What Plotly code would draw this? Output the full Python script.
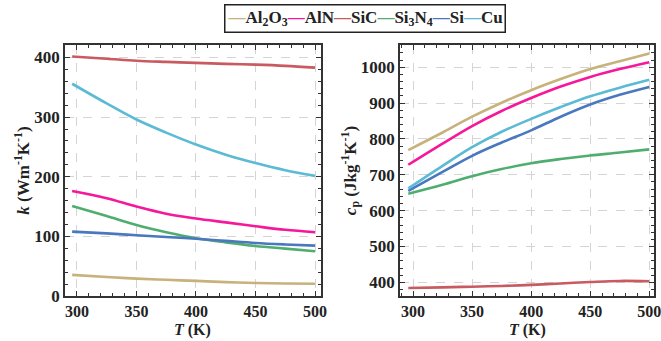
import plotly.graph_objects as go

T = [296, 325, 350, 375, 400, 425, 450, 475, 500]

names = ["Al2O3", "AlN", "SiC", "Si3N4", "Si", "Cu"]
labels_html = ["Al<sub>2</sub>O<sub>3</sub>", "AlN", "SiC", "Si<sub>3</sub>N<sub>4</sub>", "Si", "Cu"]
colors = ["#c8b27c", "#f7179a", "#c95a60", "#4fae6f", "#4a78bf", "#5bbad4"]

# thermal conductivity k (W m^-1 K^-1)
k_Al2O3 = [35.4, 31.8, 29.2, 27.2, 25.3, 23.3, 21.7, 20.9, 20.6]
k_AlN = [176, 164, 150, 138, 130, 123.5, 117, 111, 107]
k_SiC = [401.6, 398, 394.7, 392.7, 391, 389.4, 388, 386, 383]
k_Si3N4 = [151, 134, 119, 107, 97, 90, 84, 79.5, 75]
k_Si = [108, 105, 102, 99, 96, 92.5, 89, 86.5, 84.5]
k_Cu = [356, 323, 296, 274, 254, 237, 223, 211, 201.5]

# specific heat cp (J kg^-1 K^-1)
cp_Al2O3 = [769, 818, 862, 901, 936, 967, 995, 1017, 1038]
cp_AlN = [728, 787, 836, 878, 914, 946, 973, 995, 1014]
cp_SiC = [384.5, 386, 388, 390, 393, 397, 401, 404, 403]
cp_Si3N4 = [647, 672, 696, 716, 732, 744, 754, 762, 771]
cp_Si = [655, 708, 753, 790, 824, 862, 896, 923, 945]
cp_Cu = [662, 725, 777, 820, 856, 889, 919, 943, 965]

k_data = [k_Al2O3, k_AlN, k_SiC, k_Si3N4, k_Si, k_Cu]
cp_data = [cp_Al2O3, cp_AlN, cp_SiC, cp_Si3N4, cp_Si, cp_Cu]

x_ticks = [300, 350, 400, 450, 500]
k_ticks = [0, 100, 200, 300, 400]
cp_ticks = [400, 500, 600, 700, 800, 900, 1000]

FONT = "Liberation Serif, Times New Roman, serif"

fig = go.Figure()
for n, c, kv, cv in zip(names, colors, k_data, cp_data):
    fig.add_trace(go.Scatter(x=T, y=kv, mode="lines", name=n, showlegend=False,
                             line=dict(color=c, width=2.6, shape="spline", smoothing=1.0),
                             xaxis="x", yaxis="y"))
    fig.add_trace(go.Scatter(x=T, y=cv, mode="lines", name=n, showlegend=False,
                             line=dict(color=c, width=2.6, shape="spline", smoothing=1.0),
                             xaxis="x2", yaxis="y2"))

tickfont_y = dict(family=FONT, size=17, color="#222")
tickfont_x = dict(family=FONT, size=16, color="#222")
titlefont = dict(family=FONT, size=17, color="#222")
xtitlefont = dict(family=FONT, size=16, color="#222")

def bold(vals):
    return [f"<b>{v}</b>" for v in vals]

axis_common = dict(
    showline=True, linecolor="#333", linewidth=1.6, mirror="allticks",
    ticks="inside", ticklen=5, tickwidth=1.2, tickcolor="#333",
    showgrid=True, gridcolor="#d4d4d4", griddash="dash", gridwidth=1,
    zeroline=False, automargin=False, ticklabeloverflow="allow",
)
minor_x = dict(dtick=10, ticks="inside", ticklen=3, tickcolor="#333", showgrid=False)
minor_y = dict(dtick=20, ticks="inside", ticklen=3, tickcolor="#333", showgrid=False)

fig.update_layout(
    width=661, height=341,
    margin=dict(l=65, r=7, t=45, b=45),
    paper_bgcolor="white", plot_bgcolor="white",
    xaxis=dict(domain=[0, 0.4346], range=[290, 505], tickvals=x_ticks, ticktext=bold(x_ticks),
               minor=minor_x, anchor="y", tickfont=tickfont_x, **axis_common),
    yaxis=dict(domain=[0, 1], range=[0, 421], tickvals=k_ticks, ticktext=bold(k_ticks),
               minor=minor_y, tickfont=tickfont_y,
               title=dict(text="<b><i>k</i> (Wm<sup>-1</sup>K<sup>-1</sup>)</b>", font=titlefont, standoff=0),
               anchor="x", **axis_common),
    xaxis2=dict(domain=[0.5688, 1], range=[289, 504], tickvals=x_ticks, ticktext=bold(x_ticks),
                minor=minor_x, anchor="y2", tickfont=tickfont_x, **axis_common),
    yaxis2=dict(domain=[0, 1], range=[362, 1062], tickvals=cp_ticks, ticktext=bold(cp_ticks),
                minor=minor_y, tickfont=tickfont_y,
                title=dict(text="<b><i>c</i><sub>p</sub> (Jkg<sup>-1</sup>K<sup>-1</sup>)</b>", font=titlefont, standoff=0),
                anchor="x2", **axis_common),
)

# x-axis titles as annotations just below the tick labels
for xr in ["x domain", "x2 domain"]:
    fig.add_annotation(text="<b><i>T</i> (K)</b>", xref=xr, yref="paper", x=0.5, y=0,
                       yshift=-44, xanchor="center", yanchor="bottom", showarrow=False,
                       font=xtitlefont, borderpad=0)

# legend built as a bordered text box
parts = []
for lab, c in zip(labels_html, colors):
    parts.append(f"<span style='color:{c}'>\u2014</span>{lab}")
legend_text = "<b>" + "".join(parts) + "</b>"
fig.add_annotation(
    text=legend_text, xref="paper", yref="paper", x=0.5085, y=1.0, yshift=41,
    xanchor="center", yanchor="top", showarrow=False,
    font=dict(family=FONT, size=17, color="#222"),
    bordercolor="#222", borderwidth=1.5, borderpad=2, bgcolor="white",
)

fig.write_html("out.html")
